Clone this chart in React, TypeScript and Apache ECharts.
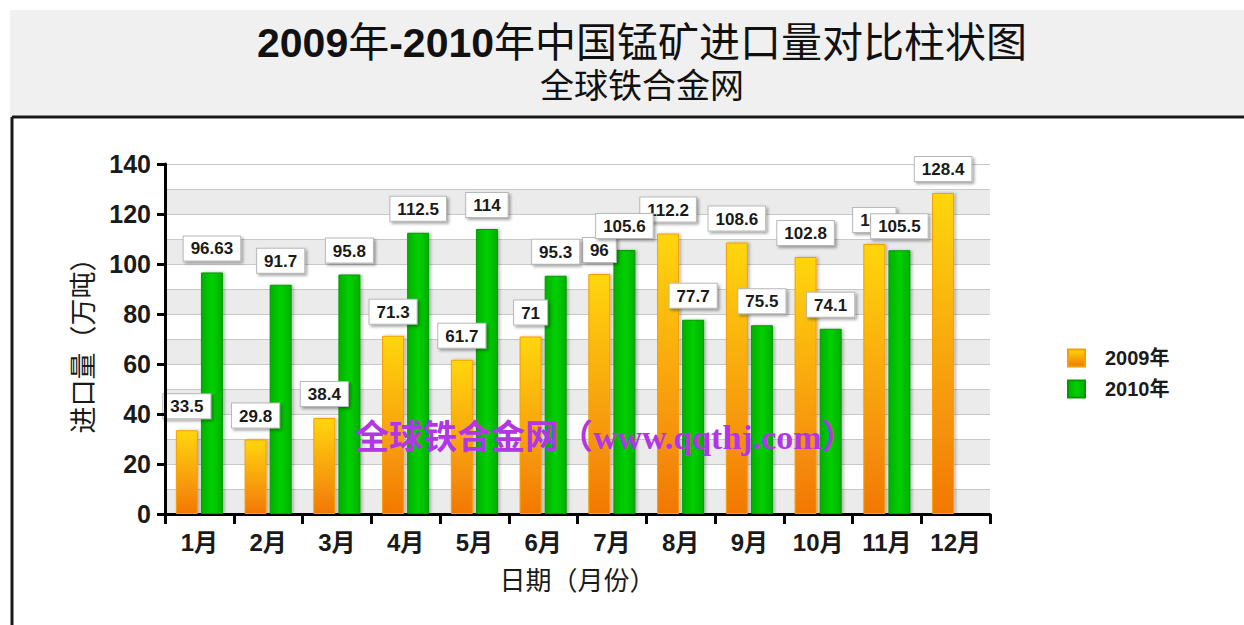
import React, { useEffect, useRef } from "react";
import * as echarts from "echarts";

const months = ["1月", "2月", "3月", "4月", "5月", "6月", "7月", "8月", "9月", "10月", "11月", "12月"];
const imports2009 = [33.5, 29.8, 38.4, 71.3, 61.7, 71, 96, 112.2, 108.6, 102.8, 108, 128.4];
const imports2010 = [96.63, 91.7, 95.8, 112.5, 114, 95.3, 105.6, 77.7, 75.5, 74.1, 105.5, null];
const seriesNames = ["2009年", "2010年"];
const titleText = "{b|2009}年{b|-2010}年中国锰矿进口量对比柱状图";
const subTitleText = "全球铁合金网";
const watermark = "全球铁合金网（www.qqthj.com）";
const xName = "日期（月份）";
const yName = "进口量（万吨）";

const FONT = "Arial, 'Liberation Sans', 'Noto Sans CJK SC', sans-serif";

export default function App() {
  const ref = useRef<HTMLDivElement>(null);
  useEffect(() => {
    if (!ref.current) return;
    const chart = echarts.init(ref.current, null, { renderer: "svg" });
    const labelStyle = {
      show: true,
      position: "top" as const,
      distance: 12,
      backgroundColor: "#ffffff",
      borderColor: "#b8b8b8",
      borderWidth: 1,
      padding: [4, 7, 3, 7],
      shadowBlur: 3,
      shadowOffsetX: 2,
      shadowOffsetY: 2,
      shadowColor: "rgba(0,0,0,0.35)",
      fontFamily: FONT,
      fontWeight: "bold" as const,
      fontSize: 17,
      color: "#1a1a1a",
    };
    const orange = new echarts.graphic.LinearGradient(0, 0, 0, 1, [
      { offset: 0, color: "#ffd60a" },
      { offset: 1, color: "#f27806" },
    ]);
    const green = new echarts.graphic.LinearGradient(0, 0, 1, 0, [
      { offset: 0, color: "#00b000" },
      { offset: 0.5, color: "#00d000" },
      { offset: 1, color: "#00b000" },
    ]);
    chart.setOption({
      animation: false,
      backgroundColor: "#ffffff",
      graphic: [
        { type: "rect", z: -10, shape: { x: 10, y: 10, width: 1234, height: 107 }, style: { fill: "#f0f0f0" } },
        { type: "line", z: -5, shape: { x1: 12, y1: 117, x2: 1244, y2: 117 }, style: { stroke: "#1a1a1a", lineWidth: 3 } },
        { type: "line", z: -5, shape: { x1: 12, y1: 117, x2: 12, y2: 625 }, style: { stroke: "#1a1a1a", lineWidth: 3 } },
        {
          type: "text",
          z: 100,
          x: 355,
          y: 437,
          style: {
            text: watermark,
            fill: "#b236e6",
            fontSize: 34,
            fontWeight: "bold",
            fontFamily: "'Liberation Serif', 'DejaVu Serif', 'Noto Sans CJK SC', serif",
            verticalAlign: "middle",
          },
        },
      ],
      title: {
        text: titleText,
        subtext: subTitleText,
        left: 637,
        top: 17,
        textAlign: "center",
        itemGap: 6,
        textStyle: {
          fontSize: 41,
          fontWeight: "normal",
          color: "#111",
          fontFamily: FONT,
          rich: { b: { fontSize: 41, fontWeight: "bold", color: "#111", fontFamily: FONT } },
        },
        subtextStyle: { fontSize: 34, color: "#111", fontFamily: FONT },
      },
      legend: {
        orient: "vertical",
        left: 1062,
        top: 343,
        itemWidth: 17,
        itemHeight: 17,
        itemGap: 11,
        icon: "rect",
        data: seriesNames,
        textStyle: { fontSize: 20, fontWeight: "bold", color: "#1a1a1a", fontFamily: FONT, padding: [0, 0, 0, 15] },
      },
      grid: { left: 165, right: 254, top: 164, bottom: 111 },
      xAxis: {
        type: "category",
        data: months,
        name: xName,
        nameLocation: "middle",
        nameGap: 54,
        nameTextStyle: { fontSize: 26, color: "#1a1a1a", fontFamily: FONT },
        axisLine: { lineStyle: { color: "#000", width: 3 } },
        axisTick: { show: true, length: 10, lineStyle: { color: "#000", width: 3 } },
        axisLabel: { fontSize: 24, fontWeight: "bold", color: "#1a1a1a", margin: 16, fontFamily: FONT },
      },
      yAxis: [
        {
          type: "value",
          min: 0,
          max: 140,
          interval: 20,
          name: yName,
          nameLocation: "middle",
          nameGap: 68,
          nameTextStyle: { fontSize: 27, color: "#1a1a1a", fontFamily: FONT },
          axisLine: { show: true, lineStyle: { color: "#000", width: 3 } },
          axisTick: { show: true, length: 8, lineStyle: { color: "#000", width: 3 } },
          axisLabel: { fontSize: 25, fontWeight: "bold", color: "#1a1a1a", margin: 14, fontFamily: FONT },
          splitLine: { show: false },
          z: 5,
        },
        {
          type: "value",
          min: 0,
          max: 140,
          interval: 10,
          position: "left",
          axisLine: { show: false },
          axisTick: { show: false },
          axisLabel: { show: false },
          splitLine: { show: true, lineStyle: { color: "#c8c8c8", width: 1 } },
          splitArea: { show: true, areaStyle: { color: ["#ebebeb", "#ffffff"] } },
          z: 0,
        },
      ],
      series: [
        {
          name: seriesNames[0],
          type: "bar",
          data: imports2009,
          barWidth: 22,
          barGap: "14%",
          itemStyle: {
            color: orange,
            borderColor: "#f4a000",
            borderWidth: 1,
            shadowBlur: 3,
            shadowOffsetX: 2,
            shadowColor: "rgba(0,0,0,0.25)",
          },
          label: labelStyle,
          z: 3,
        },
        {
          name: seriesNames[1],
          type: "bar",
          data: imports2010,
          barWidth: 22,
          itemStyle: {
            color: green,
            borderColor: "#009a00",
            borderWidth: 1,
            shadowBlur: 3,
            shadowOffsetX: 2,
            shadowColor: "rgba(0,0,0,0.25)",
          },
          label: labelStyle,
          z: 3,
        },
      ],
    });
    return () => chart.dispose();
  }, []);
  return <div ref={ref} style={{ position: "fixed", left: 0, top: 0, width: 1244, height: 625 }} />;
}
